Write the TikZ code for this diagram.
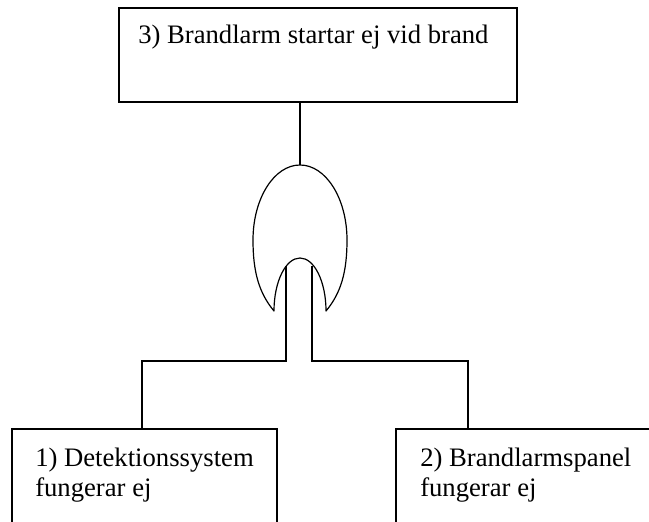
\documentclass[tikz,border=0pt]{standalone}
\usepackage{fontspec}
\setmainfont{Liberation Serif}
\begin{document}
\begin{tikzpicture}[x=0.75pt,y=-0.75pt,
  box/.style={draw,line width=1.2pt,rectangle,inner sep=0pt,outer sep=0pt,anchor=north west},
  lbl/.style={anchor=base west,inner sep=0pt,font=\fontsize{20}{24}\selectfont},
  wire/.style={line width=1.2pt},
  gateline/.style={line width=0.9pt,line join=round}]
\useasboundingbox (0,0) rectangle (649,521);
\clip (0,0) rectangle (649,521);
% boxes
\node[box,minimum width=298.5pt,minimum height=70.5pt] (top) at (119,8) {};
\node[box,minimum width=198.75pt,minimum height=90pt] (lbox) at (12,429) {};
\node[box,minimum width=210pt,minimum height=90pt] (rbox) at (396,429) {};
% texts
\node[lbl] (t3) at (138,43) {3) Brandlarm startar ej vid brand};
\node[lbl] (t1a) at (35,466) {1) Detektionssystem};
\node[lbl] (t1b) at (35,496) {fungerar ej};
\node[lbl] (t2a) at (420,466) {2) Brandlarmspanel};
\node[lbl] (t2b) at (420,496) {fungerar ej};
% gate
\coordinate (gtop) at (300,165);
\coordinate (gl) at (286,266);
\coordinate (gr) at (312,266);
\coordinate (lj) at (142,361);
\coordinate (rj) at (468,361);
\draw[gateline] (274,311) .. controls (259,293) and (253,272) .. (253,240)
  arc[start angle=180,end angle=360,x radius=47,y radius=75]
  .. controls (347,272) and (341,293) .. (326,311)
  arc[start angle=0,end angle=-180,x radius=26,y radius=53] -- cycle;
% connectors
\draw[wire] (gtop |- top.south) -- (gtop);
\draw[wire] (gl) |- (lj) -- (lj |- lbox.north);
\draw[wire] (gr) |- (rj) -- (rj |- rbox.north);
\end{tikzpicture}
\end{document}
